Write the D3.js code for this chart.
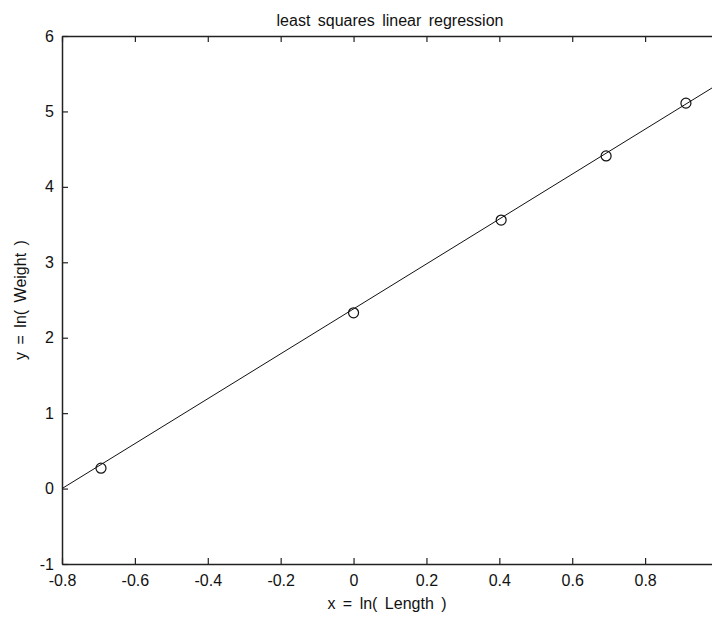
<!DOCTYPE html>
<html>
<head>
<meta charset="utf-8">
<script src="https://cdn.jsdelivr.net/npm/d3@7"></script>
<style>
  body { margin: 0; background: #fff; overflow: hidden; }
  svg { display: block; }
  .tick-label, .axis-label, .title { font-family: "Liberation Sans", Arial, sans-serif; fill: #111; }
  .axis-label, .title { word-spacing: 3px; }
</style>
</head>
<body>
<svg id="chart" width="712" height="618"></svg>
<script>
// data: x = ln(length), y = ln(weight)
const lnLength = [-0.693, 0, 0.405, 0.693, 0.912];
const lnWeight = [0.27, 2.33, 3.56, 4.41, 5.11];

// fitted line, end points as drawn
const fitX = [-0.8, 1.0];
const fitY = [0.0, 5.36];

const xTicks = [-0.8, -0.6, -0.4, -0.2, 0, 0.2, 0.4, 0.6, 0.8, 1];
// label for 1 sits past the right edge of the window, so left blank
const xTickLabels = ['-0.8', '-0.6', '-0.4', '-0.2', '0', '0.2', '0.4', '0.6', '0.8', ''];
const yTicks = [-1, 0, 1, 2, 3, 4, 5, 6];
const yTickLabels = ['-1', '0', '1', '2', '3', '4', '5', '6'];

const margin = { left: 62, top: 36, right: 718, bottom: 564 };
const tickLen = 6;

const svg = d3.select('#chart');

const x = d3.scaleLinear().domain([-0.8, 1]).range([margin.left, margin.right]);
const y = d3.scaleLinear().domain([-1, 6]).range([margin.bottom, margin.top]);

// axes box (matlab style, ticks pointing in on all four sides)
const axisBottom = d3.axisBottom(x).tickValues(xTicks).tickSizeInner(-tickLen).tickSizeOuter(0)
  .tickFormat((d, i) => xTickLabels[i]).tickPadding(8);
const axisTop = d3.axisTop(x).tickValues(xTicks).tickSizeInner(-tickLen).tickSizeOuter(0).tickFormat('');
const axisLeft = d3.axisLeft(y).tickValues(yTicks).tickSizeInner(-tickLen).tickSizeOuter(0)
  .tickFormat((d, i) => yTickLabels[i]).tickPadding(8);
const axisRight = d3.axisRight(y).tickValues(yTicks).tickSizeInner(-tickLen).tickSizeOuter(0).tickFormat('');

const gB = svg.append('g').attr('transform', `translate(0,${margin.bottom})`).call(axisBottom);
const gT = svg.append('g').attr('transform', `translate(0,${margin.top})`).call(axisTop);
const gL = svg.append('g').attr('transform', `translate(${margin.left},0)`).call(axisLeft);
const gR = svg.append('g').attr('transform', `translate(${margin.right},0)`).call(axisRight);

[gB, gT, gL, gR].forEach(g => {
  g.select('.domain').attr('stroke', '#222').attr('stroke-width', 1.5);
  g.selectAll('.tick line').attr('stroke', '#222').attr('stroke-width', 1.2);
  g.selectAll('.tick text')
    .attr('class', 'tick-label')
    .attr('font-size', 16)
    .attr('fill', '#111');
});
gB.selectAll('.tick text').attr('dy', '0.85em');

// regression line
const line = d3.line().x(d => x(d[0])).y(d => y(d[1]));
svg.append('path')
  .datum(d3.zip(fitX, fitY))
  .attr('d', line)
  .attr('fill', 'none')
  .attr('stroke', '#111')
  .attr('stroke-width', 1);

// data markers
svg.append('g')
  .selectAll('circle')
  .data(d3.zip(lnLength, lnWeight))
  .join('circle')
  .attr('cx', d => x(d[0]))
  .attr('cy', d => y(d[1]))
  .attr('r', 5)
  .attr('fill', 'none')
  .attr('stroke', '#111')
  .attr('stroke-width', 1.2);

// labels
svg.append('text')
  .attr('class', 'title')
  .attr('x', (margin.left + margin.right) / 2)
  .attr('y', 26)
  .attr('text-anchor', 'middle')
  .attr('font-size', 16)
  .text('least squares linear regression');

svg.append('text')
  .attr('class', 'axis-label')
  .attr('x', 387)
  .attr('y', 609)
  .attr('text-anchor', 'middle')
  .attr('font-size', 16)
  .text('x = ln( Length )');

svg.append('text')
  .attr('class', 'axis-label')
  .attr('transform', 'translate(26,300) rotate(-90)')
  .attr('text-anchor', 'middle')
  .attr('font-size', 16)
  .text('y = ln( Weight )');
</script>
</body>
</html>
